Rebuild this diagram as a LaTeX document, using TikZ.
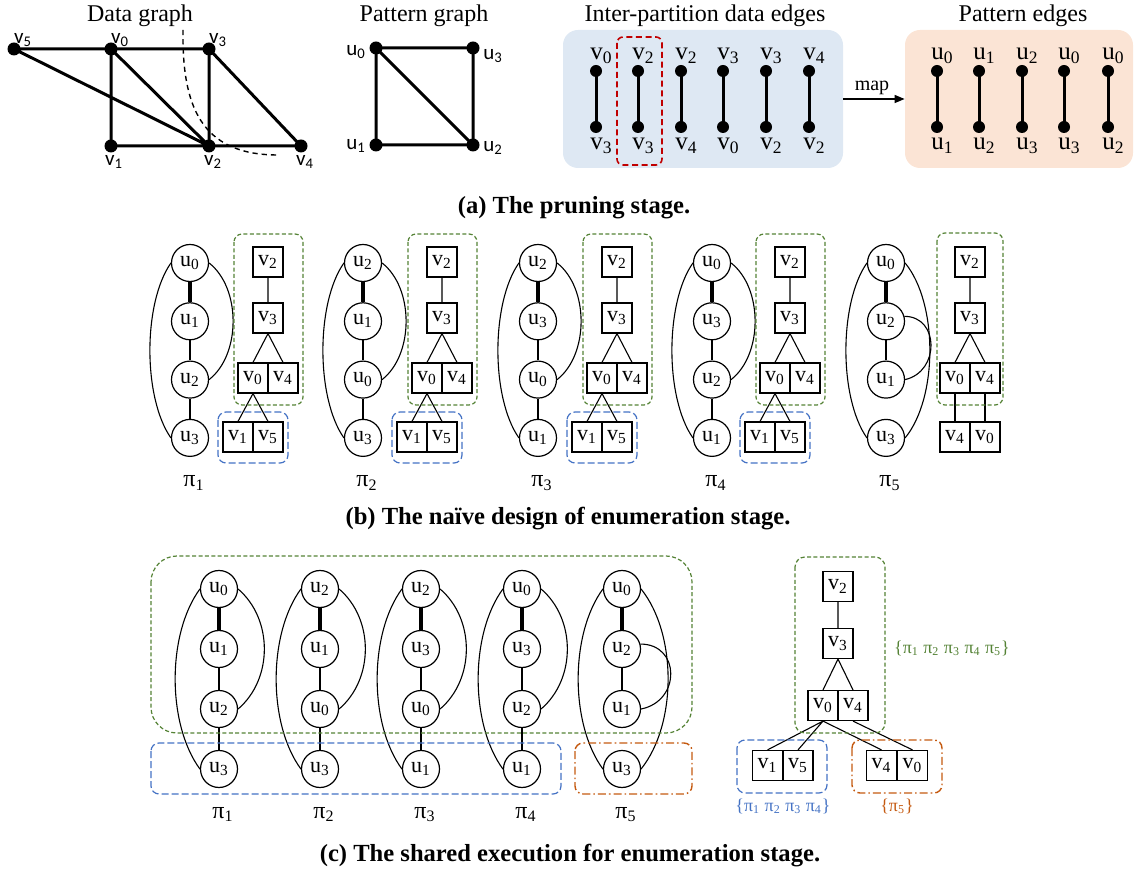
\documentclass[tikz,border=0pt]{standalone}
\usepackage{fontspec}
\setmainfont{Liberation Serif}
\setsansfont{Carlito}
\usetikzlibrary{arrows.meta}

\definecolor{gdash}{HTML}{548235}
\definecolor{bdash}{HTML}{4472C4}
\definecolor{odash}{HTML}{C55A11}
\definecolor{rdash}{HTML}{C00000}
\definecolor{bfill}{HTML}{DEE8F3}
\definecolor{ofill}{HTML}{FBE4D5}

\tikzset{
  gnode/.style={circle, fill=black, inner sep=0pt, minimum size=6.5pt},
  gedge/.style={line width=1.5pt},
  glabel/.style={font=\sffamily\fontsize{10.5}{12}\selectfont, inner sep=0pt},
  title/.style={font=\fontsize{12}{14}\selectfont, inner sep=0pt, anchor=base},
  edot/.style={circle, fill=black, inner sep=0pt, minimum size=6pt},
  eedge/.style={line width=1.5pt},
  elabel/.style={font=\fontsize{12.5}{14}\selectfont, inner sep=0pt, anchor=base west},
  unode/.style={circle, draw, line width=0.6pt, minimum size=18.5pt, inner sep=0pt, font=\fontsize{11}{12}\selectfont},
  vbox/.style={rectangle, draw, line width=0.6pt, minimum size=15pt, inner sep=0pt, font=\fontsize{11}{12}\selectfont},
  tedge/.style={line width=0.55pt},
  kedge/.style={line width=2pt},
  ggrp/.style={draw=gdash, line width=0.6pt, dash pattern=on 2pt off 1.2pt, rounded corners=4pt},
  bgrp/.style={draw=bdash, line width=0.6pt, dash pattern=on 3.5pt off 1.5pt, rounded corners=4pt},
  ogrp/.style={draw=odash, line width=0.7pt, dash pattern=on 4pt off 1.5pt on 0.8pt off 1.5pt, rounded corners=4pt},
  plabel/.style={font=\fontsize{12}{13}\selectfont, inner sep=0pt, anchor=base west},
  setlabel/.style={font=\fontsize{9}{11}\selectfont, inner sep=0pt},
  caption/.style={font=\bfseries\fontsize{12.3}{14}\selectfont, inner sep=0pt, anchor=base},
}

% one pattern ordering: four vertices in a column, arcs on both sides
\newcommand\patcol[8]{%
  \node[unode] (#2a) at (#1,#7) {u\textsubscript{#3}};
  \node[unode] (#2b) at (#1,#7+#8) {u\textsubscript{#4}};
  \node[unode] (#2c) at (#1,#7+2*#8) {u\textsubscript{#5}};
  \node[unode] (#2d) at (#1,#7+3*#8) {u\textsubscript{#6}};
  \draw[kedge] (#2a) -- (#2b);
  \draw[tedge] (#2b) -- (#2c) (#2c) -- (#2d);
  \draw[tedge] (#2a.west) .. controls +(-\ld,\le) and +(-\ld,-\le) .. (#2d.west);
  \draw[tedge] (#2a.east) .. controls +(\rd,\re) and +(\rd,-\re) .. (#2c.east);
}
% the fifth ordering: outer arcs to the last vertex, short arc between the middle two
\newcommand\patcolv[8]{%
  \node[unode] (#2a) at (#1,#7) {u\textsubscript{#3}};
  \node[unode] (#2b) at (#1,#7+#8) {u\textsubscript{#4}};
  \node[unode] (#2c) at (#1,#7+2*#8) {u\textsubscript{#5}};
  \node[unode] (#2d) at (#1,#7+3*#8) {u\textsubscript{#6}};
  \draw[kedge] (#2a) -- (#2b);
  \draw[tedge] (#2b) -- (#2c);
  \draw[tedge] (#2a.west) .. controls +(-\ld,\le) and +(-\ld,-\le) .. (#2d.west);
  \draw[tedge] (#2a.east) .. controls +(\rd+1,\le) and +(\rd+1,-\le) .. (#2d.east);
  \draw[tedge] (#2b.15) .. controls +(\sd,0) and +(\sd,-8) .. (#2c.east);
}
% shared upper part of a search tree
\newcommand\btree[2]{%
  \node[vbox] (#2v2) at (#1,262) {v\textsubscript{2}};
  \node[vbox] (#2v3) at (#1,318) {v\textsubscript{3}};
  \node[vbox] (#2v0) at (#1-15,378) {v\textsubscript{0}};
  \node[vbox] (#2v4) at (#1+15,378) {v\textsubscript{4}};
  \draw[tedge] (#2v2) -- (#2v3) (#2v3.south) -- (#2v0.north) (#2v3.south) -- (#2v4.north);
}
% lower level v1 | v5 under v0
\newcommand\bleaf[2]{%
  \node[vbox] (#2v1) at (#1-30,437) {v\textsubscript{1}};
  \node[vbox] (#2v5) at (#1,437) {v\textsubscript{5}};
  \draw[tedge] (#2v0.south) -- (#2v1.north) (#2v0.south) -- (#2v5.north);
  \draw[ggrp] (#1-34,234) rectangle (#1+35,405);
  \draw[bgrp] (#1-50,412) rectangle (#1+20,463);
}

\begin{document}
\begin{tikzpicture}[x=0.5pt, y=-0.5pt]
\useasboundingbox (0,0) rectangle (1135,876);

% ---------------- (a) data graph ----------------
\node[title] (tdg) at (140,22) {Data graph};
\node[gnode] (v5) at (14,49) {};
\node[gnode] (v0) at (111,49) {};
\node[gnode] (v3) at (209,49) {};
\node[gnode] (v1) at (111,146) {};
\node[gnode] (v2) at (209,146) {};
\node[gnode] (v4) at (301,146) {};
\draw[gedge] (v5.center) -- (v0.center) (v0.center) -- (v3.center)
  (v5.center) -- (v2.center) (v0.center) -- (v1.center) (v0.center) -- (v2.center)
  (v3.center) -- (v2.center) (v3.center) -- (v4.center) (v1.center) -- (v2.center)
  (v2.center) -- (v4.center);
\draw[line width=0.7pt, dash pattern=on 2.6pt off 2pt] (183,30) .. controls (182,105) and (200,155) .. (278,155);
\node[glabel] (lv5) at (23,40) {v\textsubscript{5}};
\node[glabel] (lv0) at (120,40) {v\textsubscript{0}};
\node[glabel] (lv3) at (218,40) {v\textsubscript{3}};
\node[glabel] (lv1) at (114,162) {v\textsubscript{1}};
\node[glabel] (lv2) at (213,162) {v\textsubscript{2}};
\node[glabel] (lv4) at (305,162) {v\textsubscript{4}};

% ---------------- (a) pattern graph ----------------
\node[title] (tpg) at (424,22) {Pattern graph};
\node[gnode] (p0) at (376,48) {};
\node[gnode] (p3) at (473,48) {};
\node[gnode] (p1) at (376,145) {};
\node[gnode] (p2) at (473,145) {};
\draw[gedge] (p0.center) -- (p3.center) (p0.center) -- (p1.center) (p1.center) -- (p2.center)
  (p3.center) -- (p2.center) (p0.center) -- (p2.center);
\node[glabel] (lp0) at (356,52) {u\textsubscript{0}};
\node[glabel] (lp3) at (493,56) {u\textsubscript{3}};
\node[glabel] (lp1) at (356,146) {u\textsubscript{1}};
\node[glabel] (lp2) at (493,148) {u\textsubscript{2}};

% ---------------- (a) inter-partition edges -> pattern edges ----------------
\node[title] (tie) at (705,22) {Inter-partition data edges};
\node[title] (tpe) at (1023,22) {Pattern edges};
\node[fill=bfill, rounded corners=7.5pt, minimum width=140pt, minimum height=69pt, inner sep=0pt] (ipbox) at (703,99) {};
\node[fill=ofill, rounded corners=7.5pt, minimum width=114pt, minimum height=69pt, inner sep=0pt] (pebox) at (1019,99) {};
\draw[rdash, line width=0.8pt, dash pattern=on 3pt off 1.8pt, rounded corners=3pt] (617,37) rectangle (662,165);
\foreach \x/\t/\b [count=\i] in {596/0/3, 638/2/3, 681/2/4, 723/3/0, 766/3/2, 809/4/2} {
  \node[edot] (dt\i) at (\x,71) {};
  \node[edot] (db\i) at (\x,127) {};
  \draw[eedge] (dt\i.center) -- (db\i.center);
  \node[elabel] (ldt\i) at (\x-6,60) {v\textsubscript{\t}};
  \node[elabel] (ldb\i) at (\x-6,150) {v\textsubscript{\b}};
}
\foreach \x/\t/\b [count=\i] in {937/0/1, 979/1/2, 1022/2/3, 1064/0/3, 1108/0/2} {
  \node[edot] (pt\i) at (\x,71) {};
  \node[edot] (pb\i) at (\x,127) {};
  \draw[eedge] (pt\i.center) -- (pb\i.center);
  \node[elabel] (lpt\i) at (\x-6,60) {u\textsubscript{\t}};
  \node[elabel] (lpb\i) at (\x-6,150) {u\textsubscript{\b}};
}
\draw[line width=0.7pt, -{Triangle[length=5pt,width=4pt]}] (ipbox.east) -- (pebox.west);
\node[font=\fontsize{10}{12}\selectfont, anchor=base, inner sep=0pt] (maplbl) at (872,91) {map};

\node[caption] (capa) at (574,214) {(a) The pruning stage.};

% ---------------- (b) naive enumeration ----------------
\def\ld{28}\def\le{40}\def\rd{32}\def\re{25}\def\sd{35}
\patcol{190}{ba}{0}{1}{2}{3}{263}{58.3}
\patcol{363}{bb}{2}{1}{0}{3}{263}{58.3}
\patcol{538}{bc}{2}{3}{0}{1}{263}{58.3}
\patcol{712}{bd}{0}{3}{2}{1}{263}{58.3}
\patcolv{886}{be}{0}{2}{1}{3}{263}{58.3}

\btree{268}{ta}\bleaf{268}{ta}
\btree{442}{tb}\bleaf{442}{tb}
\btree{617}{tc}\bleaf{617}{tc}
\btree{790}{td}\bleaf{790}{td}
\btree{970}{te}
\node[vbox] (tel4) at (955,437) {v\textsubscript{4}};
\node[vbox] (tel0) at (985,437) {v\textsubscript{0}};
\draw[tedge] (tev0.south) -- (tel4.north) (tev4.south) -- (tel0.north);
\draw[ggrp] (937,233) rectangle (1003,405);

\node[plabel] (pib1) at (183,487) {π\textsubscript{1}};
\node[plabel] (pib2) at (356,487) {π\textsubscript{2}};
\node[plabel] (pib3) at (531,487) {π\textsubscript{3}};
\node[plabel] (pib4) at (705,487) {π\textsubscript{4}};
\node[plabel] (pib5) at (879,487) {π\textsubscript{5}};

\node[caption] (capb) at (568,525) {(b) The naïve design of enumeration stage.};

% ---------------- (c) shared execution ----------------
\def\ld{33}\def\le{45}\def\rd{35}\def\re{30}\def\sd{40}
\patcol{219}{ca}{0}{1}{2}{3}{589}{60}
\patcol{320}{cb}{2}{1}{0}{3}{589}{60}
\patcol{421}{cc}{2}{3}{0}{1}{589}{60}
\patcol{522}{cd}{0}{3}{2}{1}{589}{60}
\patcolv{622}{ce}{0}{2}{1}{3}{589}{60}

\draw[ggrp, rounded corners=13pt] (151,556) rectangle (692,733);
\draw[bgrp] (151,743) rectangle (561,794);
\draw[ogrp] (575,743) rectangle (692,794);

\node[plabel] (pic1) at (212,818) {π\textsubscript{1}};
\node[plabel] (pic2) at (313,818) {π\textsubscript{2}};
\node[plabel] (pic3) at (414,818) {π\textsubscript{3}};
\node[plabel] (pic4) at (515,818) {π\textsubscript{4}};
\node[plabel] (pic5) at (615,818) {π\textsubscript{5}};

% shared search tree
\node[vbox] (sv2) at (838,586.5) {v\textsubscript{2}};
\node[vbox] (sv3) at (838,643.5) {v\textsubscript{3}};
\node[vbox] (sv0) at (823,705.5) {v\textsubscript{0}};
\node[vbox] (sv4) at (853,705.5) {v\textsubscript{4}};
\node[vbox] (sv1) at (767.5,765.5) {v\textsubscript{1}};
\node[vbox] (sv5) at (798,765.5) {v\textsubscript{5}};
\node[vbox] (sl4) at (881.5,765.5) {v\textsubscript{4}};
\node[vbox] (sl0) at (912.5,765.5) {v\textsubscript{0}};
\draw[tedge] (sv2) -- (sv3) (sv3.south) -- (sv0.north) (sv3.south) -- (sv4.north)
  (sv0.south) -- (sv1.north) (sv0.south) -- (sv5.north) (sv0.south) -- (sl4.north)
  (sv4.south) -- (sl0.north);
\draw[ggrp, rounded corners=5pt] (795,557) rectangle (885,733);
\draw[bgrp] (737,740) rectangle (827,793);
\draw[ogrp] (852,740) rectangle (942,793);
\node[setlabel, text=gdash] (sall) at (952,648) {\{π\textsubscript{1} π\textsubscript{2} π\textsubscript{3} π\textsubscript{4} π\textsubscript{5}\}};
\node[setlabel, text=bdash] (sfour) at (783,806) {\{π\textsubscript{1} π\textsubscript{2} π\textsubscript{3} π\textsubscript{4}\}};
\node[setlabel, text=odash] (sfive) at (897,806) {\{π\textsubscript{5}\}};

\node[caption] (capc) at (570,861) {(c) The shared execution for enumeration stage.};
\end{tikzpicture}
\end{document}
